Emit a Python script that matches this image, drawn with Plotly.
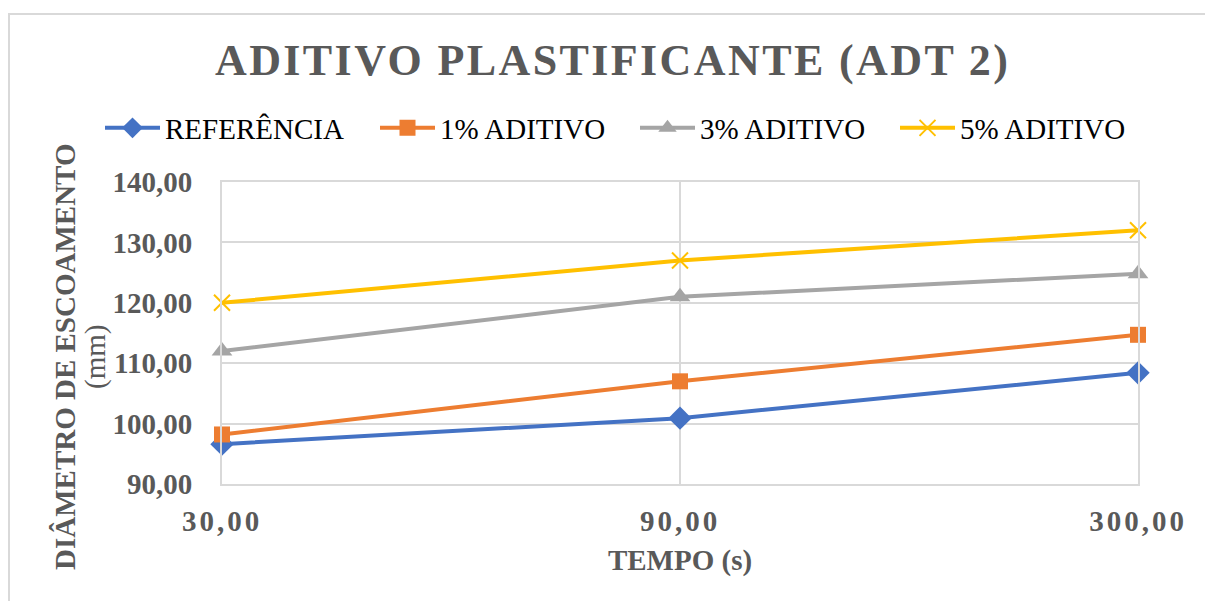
import plotly.graph_objects as go

# Test times (s) shown as categories on the x axis
tempos = ["30,00", "90,00", "300,00"]

# Flow diameter (mm) for each admixture dosage
referencia = [96.6, 100.9, 108.4]
aditivo_1 = [98.2, 107.0, 114.7]
aditivo_3 = [112.0, 121.0, 124.8]
aditivo_5 = [120.0, 127.0, 132.0]

y_ticks = [90, 100, 110, 120, 130, 140]
y_tick_text = ["90,00", "100,00", "110,00", "120,00", "130,00", "140,00"]

SERIF = "Liberation Serif, Times New Roman, serif"
GRAY_TEXT = "#595959"
GRID = "#D9D9D9"
W, H = 1205, 601

x_pos = list(range(len(tempos)))

# name, values, colour, marker symbol, marker size, marker line width, legend left edge (px)
series = [
    ("REFERÊNCIA", referencia, "#4472C4", "diamond", 18, None, 100),
    ("1% ADITIVO", aditivo_1, "#ED7D31", "square", 16, None, 375),
    ("3% ADITIVO", aditivo_3, "#A5A5A5", "triangle-up", 18, None, 635),
    ("5% ADITIVO", aditivo_5, "#FFC000", "x-thin", 16, 2, 895),
]

fig = go.Figure()
legends = {}
for i, (name, vals, color, symbol, size, mlw, lx) in enumerate(series):
    marker = dict(symbol=symbol, size=size, color=color)
    marker["line"] = dict(color=color, width=mlw) if mlw else dict(width=0)
    legend_id = "legend" if i == 0 else f"legend{i + 1}"
    fig.add_trace(go.Scatter(
        x=x_pos, y=vals, name=name, mode="lines+markers",
        line=dict(color=color, width=4), marker=marker,
        cliponaxis=False, legend=legend_id,
    ))
    legends[legend_id] = dict(
        orientation="h", x=lx / W, xanchor="left",
        y=1 - 128 / H, yanchor="middle",
        xref="container", yref="container",
        font=dict(family=SERIF, size=29, color="black"),
        itemwidth=55, bgcolor="rgba(0,0,0,0)",
    )

axis_common = dict(
    showgrid=True, gridcolor=GRID, gridwidth=2, zeroline=False,
    showline=True, mirror=True, linecolor=GRID, linewidth=2, ticks="",
    tickfont=dict(family=SERIF, size=29, color=GRAY_TEXT),
)

fig.update_layout(
    width=W, height=H,
    margin=dict(l=222, r=67, t=182, b=117, autoexpand=False),
    paper_bgcolor="white", plot_bgcolor="white",
    showlegend=True,
    xaxis=dict(
        range=[0, 2], tickvals=x_pos,
        ticktext=[f"<b><span style='letter-spacing:3px'>{t}</span></b>" for t in tempos],
        ticklabelstandoff=10,
        title=dict(text="<b>TEMPO (s)</b>", standoff=14,
                   font=dict(family=SERIF, size=29, color=GRAY_TEXT)),
        **axis_common,
    ),
    yaxis=dict(
        range=[90, 140], tickvals=y_ticks,
        ticktext=[f"<b>{t}</b>" for t in y_tick_text],
        ticklabelstandoff=22,
        **axis_common,
    ),
    **legends,
)

# Y axis title, two lines
fig.add_annotation(
    text="<b>DIÂMETRO DE ESCOAMENTO</b>", textangle=-90,
    xref="paper", yref="paper", x=(65 - 222) / 916, y=(484 - 357) / 302,
    xanchor="center", yanchor="middle", showarrow=False,
    font=dict(family=SERIF, size=29, color=GRAY_TEXT),
)
fig.add_annotation(
    text="(mm)", textangle=-90,
    xref="paper", yref="paper", x=(95 - 222) / 916, y=(484 - 357) / 302,
    xanchor="center", yanchor="middle", showarrow=False,
    font=dict(family=SERIF, size=29, color=GRAY_TEXT),
)

# Chart title
fig.add_annotation(
    text="<b><span style='letter-spacing:2.4px'>ADITIVO PLASTIFICANTE (ADT 2)</span></b>",
    xref="paper", yref="paper", x=(612 - 222) / 916, y=1.0,
    xanchor="center", yanchor="bottom",
    yshift=95, showarrow=False,
    font=dict(family=SERIF, size=44, color=GRAY_TEXT),
)

# Outer chart frame
fig.add_shape(type="rect", xref="paper", yref="paper",
              x0=(9 - 222) / 916, x1=1.0 + 80 / 916,
              y0=-137 / 302, y1=1.0 + 168 / 302,
              line=dict(color=GRID, width=2), layer="below")

fig.write_html("out.html")
